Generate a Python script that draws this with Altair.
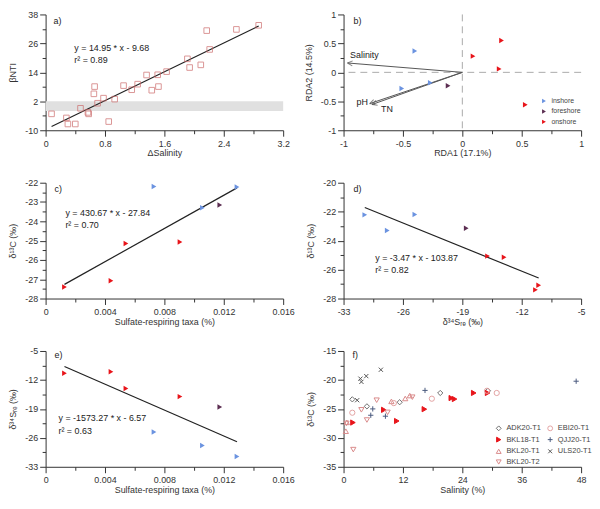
import math
import altair as alt
import pandas as pd

FONT = "Liberation Sans"
DARK = "#333333"
W, H = 240, 117
FS = 9

# ---------------- data ----------------
# a) beta-NTI vs delta salinity
a_dsal = [0.08, 0.28, 0.30, 0.40, 0.47, 0.57, 0.58, 0.66, 0.65, 0.70, 0.78, 0.85, 0.93, 1.05,
          1.16, 1.24, 1.36, 1.43, 1.51, 1.52, 1.63, 1.91, 1.94, 2.09, 2.17, 2.21, 2.57, 2.87]
a_bnti = [-3.2, -4.9, -7.4, -7.4, -0.9, -2.6, -3.2, 8.1, 5.1, 1.2, 3.3, -6.4, 2.9, 8.5,
          6.8, 9.1, 12.9, 6.6, 13.0, 8.1, 14.3, 19.6, 16.0, 17.1, 31.3, 23.5, 31.8, 33.5]
a_band = [-2, 2]
a_eq = ["y = 14.95 * x - 9.68", "r² = 0.89"]

# b) RDA
b_rda1 = [-0.40, -0.51, -0.27, -0.12, 0.33, 0.09, 0.31, 0.53]
b_rda2 = [0.37, -0.28, -0.18, -0.23, 0.55, 0.28, 0.06, -0.56]
b_group = ["inshore", "inshore", "inshore", "foreshore", "onshore", "onshore", "onshore", "onshore"]
b_vec_names = ["Salinity", "pH", "TN"]
b_vec_x = [-0.967, -0.78, -0.76]
b_vec_y = [0.162, -0.54, -0.555]
b_lab_x = [-0.945, -0.89, -0.685]
b_lab_y = [0.30, -0.507, -0.63]

groups = ["inshore", "foreshore", "onshore"]
group_colors = ["#6b93e0", "#5c2e52", "#e8141a"]

# c, d, e) samples
s_group = ["inshore", "inshore", "inshore", "foreshore", "onshore", "onshore", "onshore", "onshore"]
s_taxa = [0.0073, 0.01289, 0.01056, 0.01173, 0.00541, 0.00905, 0.00440, 0.00127]
s_d13c = [-22.2, -22.22, -23.3, -23.15, -25.15, -25.07, -27.08, -27.4]
s_d34s = [-24.6, -30.5, -27.85, -18.54, -14.08, -16.03, -10.0, -10.38]
c_eq = ["y = 430.67 * x - 27.84", "r² = 0.70"]
d_eq = ["y = -3.47 * x - 103.87", "r² = 0.82"]
e_eq = ["y = -1573.27 * x - 6.57", "r² = 0.63"]

# f) d13C vs salinity by site
f_sites = {
    "ADK20-T1": ([1.77, 4.72, 11.34, 19.54, 29.18], [-23.35, -24.56, -23.85, -22.25, -21.87]),
    "BKL18-T1": ([1.9, 8.13, 10.75, 16.33, 21.77, 22.43, 26.3, 29.1],
                 [-27.36, -25.16, -27.09, -25.05, -23.13, -23.3, -22.25, -22.25]),
    "BKL20-T1": ([0.66, 0.46, 9.67, 12.46, 13.38], [-27.33, -28.85, -23.7, -23.2, -22.7]),
    "BKL20-T2": ([0.59, 1.97, 3.6, 4.72, 6.69, 8.9, 13.9], [-27.5, -32.03, -25.16, -26.92, -23.5, -25.6, -22.98]),
    "EBI20-T1": ([1.77, 10.16, 17.84, 28.98, 30.95], [-25.66, -24.0, -23.24, -21.87, -22.25]),
    "QJJ20-T1": ([5.9, 5.5, 8.46, 16.46, 47.0], [-25.0, -26.1, -26.26, -21.81, -20.22]),
    "ULS20-T1": ([2.75, 3.41, 3.61, 4.59, 7.54], [-23.5, -19.78, -20.33, -19.34, -18.24]),
}
f_order = ["ADK20-T1", "BKL18-T1", "BKL20-T1", "BKL20-T2", "EBI20-T1", "QJJ20-T1", "ULS20-T1"]
f_shapes = {"ADK20-T1": "diamond", "EBI20-T1": "circle", "BKL18-T1": "triangle-right",
            "QJJ20-T1": "M-1,0L1,0M0,-1L0,1", "BKL20-T1": "triangle-up",
            "ULS20-T1": "M-0.8,-0.8L0.8,0.8M-0.8,0.8L0.8,-0.8", "BKL20-T2": "triangle-down"}
f_stroke = {"ADK20-T1": "#6e6e6e", "EBI20-T1": "#e3a3a3", "BKL18-T1": "#e8141a",
            "QJJ20-T1": "#4a5a7e", "BKL20-T1": "#d98a8a", "ULS20-T1": "#555555", "BKL20-T2": "#d98a8a"}
f_fill = {k: ("#e8141a" if k == "BKL18-T1" else "rgba(0,0,0,0)") for k in f_order}

# ---------------- helpers ----------------
def _test(majors):
    return " || ".join(f"abs(datum.value - ({m})) < 1e-9" for m in majors)

def ax(title, majors, minors, kind):
    t = _test(majors)
    common = dict(
        title=title, values=sorted(majors + minors),
        labelExpr=f"({t}) ? '' + datum.value : ''",
        tickSize={"condition": {"test": t, "value": 6}, "value": 3.5},
        grid=False, domainColor=DARK, tickColor=DARK, labelColor=DARK, titleColor=DARK,
        labelFont=FONT, titleFont=FONT, labelFontSize=FS, titleFontSize=FS,
        titleFontWeight="normal", labelOverlap=False, labelFlush=False,
        domainWidth=1, tickWidth=1,
    )
    if kind == "x":
        return alt.Axis(labelPadding=3, titlePadding=1, **common)
    return alt.Axis(labelPadding=2, titlePadding=7, **common)

def sc(lo, hi):
    return alt.Scale(domain=[lo, hi], nice=False, zero=False)

def txt(text, px, py, size=FS):
    return alt.Chart(pd.DataFrame({"t": [text]})).mark_text(
        align="left", baseline="middle", font=FONT, fontSize=size, color="#222"
    ).encode(text="t:N", x=alt.value(px), y=alt.value(py))

# ---------------- panel a ----------------
axa_x = ax("ΔSalinity", [0, 0.8, 1.6, 2.4, 3.2], [0.4, 1.2, 2.0, 2.8], "x")
axa_y = ax("βNTI", [-10, 2, 14, 26, 38], [-4, 8, 20, 32], "y")
sxa, sya = sc(0, 3.2), sc(-10, 38)
a_df = pd.DataFrame({"x": a_dsal, "y": a_bnti})
band_df = pd.DataFrame({"x0": [0], "x1": [3.2], "y0": [a_band[0]], "y1": [a_band[1]]})
a_band_l = alt.Chart(band_df).mark_rect(fill="#e0e0e0", opacity=1).encode(
    x=alt.X("x0:Q", scale=sxa, axis=axa_x), x2="x1:Q",
    y=alt.Y("y0:Q", scale=sya, axis=axa_y), y2="y1:Q")
a_line = alt.Chart(a_df).transform_regression("x", "y").mark_line(color="#222", strokeWidth=1.2).encode(
    x=alt.X("x:Q", scale=sxa, axis=axa_x), y=alt.Y("y:Q", scale=sya, axis=axa_y))
a_pts = alt.Chart(a_df).mark_point(shape="square", filled=False, color="#cc6a6a", size=32, strokeWidth=1).encode(
    x=alt.X("x:Q", scale=sxa, axis=axa_x), y=alt.Y("y:Q", scale=sya, axis=axa_y))
panel_a = alt.layer(a_band_l, a_line, a_pts, txt("a)", 8, 6.5), txt(a_eq[0], 29, 34), txt(a_eq[1], 29, 46)
                    ).properties(width=W, height=H)

# ---------------- panel b ----------------
axb_x = ax("RDA1 (17.1%)", [-1, -0.5, 0, 0.5, 1], [-0.75, -0.25, 0.25, 0.75], "x")
axb_y = ax("RDA2 (14.5%)", [-1, -0.5, 0, 0.5, 1], [-0.75, -0.25, 0.25, 0.75], "y")
sxb, syb = sc(-1, 1), sc(-1, 1)
b_df = pd.DataFrame({"x": b_rda1, "y": b_rda2, "group": b_group})
zero_df = pd.DataFrame({"z": [0]})
b_vline = alt.Chart(zero_df).mark_rule(color="#aaaaaa", strokeDash=[7, 5], strokeWidth=1).encode(
    x=alt.X("z:Q", scale=sxb, axis=axb_x))
b_hline = alt.Chart(zero_df).mark_rule(color="#aaaaaa", strokeDash=[7, 5], strokeWidth=1).encode(
    y=alt.Y("z:Q", scale=syb, axis=axb_y))
vec_df = pd.DataFrame({"name": b_vec_names, "x": b_vec_x, "y": b_vec_y,
                       "lx": b_lab_x, "ly": b_lab_y, "x0": [0] * 3, "y0": [0] * 3})
vec_df["ang"] = [math.degrees(math.atan2(yy * (H / 2), -xx * (W / 2))) % 360
                 for xx, yy in zip(vec_df["x"], vec_df["y"])]
b_vec = alt.Chart(vec_df).mark_rule(color="#555555", strokeWidth=1).encode(
    x=alt.X("x0:Q", scale=sxb, axis=axb_x), y=alt.Y("y0:Q", scale=syb, axis=axb_y),
    x2="x:Q", y2="y:Q")
b_head = alt.Chart(vec_df).mark_point(shape="M0,0L1.6,-0.8M0,0L1.6,0.8", filled=False,
                                      color="#555555", strokeWidth=1, size=40).encode(
    x=alt.X("x:Q", scale=sxb, axis=axb_x), y=alt.Y("y:Q", scale=syb, axis=axb_y),
    angle=alt.Angle("ang:Q", scale=None))
b_lab = alt.Chart(vec_df).mark_text(align="left", baseline="middle", font=FONT, fontSize=FS, color="#222").encode(
    x=alt.X("lx:Q", scale=sxb, axis=axb_x), y=alt.Y("ly:Q", scale=syb, axis=axb_y), text="name:N")
b_pts = alt.Chart(b_df).mark_point(shape="triangle-right", filled=True, size=30, opacity=1).encode(
    x=alt.X("x:Q", scale=sxb, axis=axb_x), y=alt.Y("y:Q", scale=syb, axis=axb_y),
    color=alt.Color("group:N", scale=alt.Scale(domain=groups, range=group_colors),
                    legend=alt.Legend(orient="none", legendX=199, legendY=84, title=None,
                                      labelFont=FONT, labelFontSize=7, labelColor="#444",
                                      symbolType="triangle-right", symbolSize=20, rowPadding=2.5,
                                      labelOffset=4, symbolStrokeWidth=0)))
panel_b = alt.layer(b_vline, b_hline, b_vec, b_head, b_lab, b_pts, txt("b)", 10, 6.5)).properties(width=W, height=H)

# ---------------- samples ----------------
s_df = pd.DataFrame({"taxa": s_taxa, "d13c": s_d13c, "d34s": s_d34s, "group": s_group})
s_color = alt.Color("group:N", scale=alt.Scale(domain=groups, range=group_colors), legend=None)

def sample_panel(xf, yf, axx, axy, sx, sy, lab, labpos, eq, eqpos):
    line = alt.Chart(s_df).transform_regression(xf, yf).mark_line(color="#222", strokeWidth=1.2).encode(
        x=alt.X(f"{xf}:Q", scale=sx, axis=axx), y=alt.Y(f"{yf}:Q", scale=sy, axis=axy))
    pts = alt.Chart(s_df).mark_point(shape="triangle-right", filled=True, size=30, opacity=1).encode(
        x=alt.X(f"{xf}:Q", scale=sx, axis=axx), y=alt.Y(f"{yf}:Q", scale=sy, axis=axy), color=s_color)
    return alt.layer(line, pts, txt(lab, *labpos), txt(eq[0], eqpos[0], eqpos[1]),
                     txt(eq[1], eqpos[0], eqpos[1] + 12.5)).properties(width=W, height=H)

taxa_major = [0, 0.004, 0.008, 0.012, 0.016]
taxa_minor = [0.002, 0.006, 0.01, 0.014]
panel_c = sample_panel("taxa", "d13c",
                       ax("Sulfate-respiring taxa (%)", taxa_major, taxa_minor, "x"),
                       ax("δ¹³C (‰)", [-28, -27, -26, -25, -24, -23, -22],
                          [-27.5, -26.5, -25.5, -24.5, -23.5, -22.5], "y"),
                       sc(0, 0.016), sc(-28, -22), "c)", (9, 6.5), c_eq, (20, 30.5))
panel_d = sample_panel("d34s", "d13c",
                       ax("δ³⁴Sᵣₑ (‰)", [-33, -26, -19, -12, -5], [-29.5, -22.5, -15.5, -8.5], "x"),
                       ax("δ¹³C (‰)", [-28, -26, -24, -22, -20], [-27, -25, -23, -21], "y"),
                       sc(-33, -5), sc(-28, -20), "d)", (10, 6.5), d_eq, (32, 76))
panel_e = sample_panel("taxa", "d34s",
                       ax("Sulfate-respiring taxa (%)", taxa_major, taxa_minor, "x"),
                       ax("δ³⁴Sᵣₑ (‰)", [-33, -26, -19, -12, -5], [-29.5, -22.5, -15.5, -8.5], "y"),
                       sc(0, 0.016), sc(-33, -5), "e)", (9, 4.5), e_eq, (13, 68))

# ---------------- panel f ----------------
rows = []
for site in f_order:
    xs, ys = f_sites[site]
    for xv, yv in zip(xs, ys):
        rows.append({"sal": xv, "d13c": yv, "site": site})
f_df = pd.DataFrame(rows)
f_leg = alt.Legend(orient="none", legendX=153, legendY=74, title=None, columns=2, direction="vertical",
                   labelFont=FONT, labelFontSize=7.5, labelColor="#444", symbolSize=24,
                   rowPadding=1.8, columnPadding=4, labelOffset=4, symbolStrokeWidth=1)
axf_x = ax("Salinity (%)", [0, 12, 24, 36, 48], [6, 18, 30, 42], "x")
axf_y = ax("δ¹³C (‰)", [-35, -30, -25, -20, -15], [-32.5, -27.5, -22.5, -17.5], "y")
f_pts = alt.Chart(f_df).mark_point(size=28, strokeWidth=1, opacity=1).encode(
    x=alt.X("sal:Q", scale=sc(0, 48), axis=axf_x),
    y=alt.Y("d13c:Q", scale=sc(-35, -15), axis=axf_y),
    shape=alt.Shape("site:N", scale=alt.Scale(domain=f_order, range=[f_shapes[k] for k in f_order]), legend=f_leg),
    stroke=alt.Stroke("site:N", scale=alt.Scale(domain=f_order, range=[f_stroke[k] for k in f_order]), legend=f_leg),
    fill=alt.Fill("site:N", scale=alt.Scale(domain=f_order, range=[f_fill[k] for k in f_order]), legend=f_leg),
)
panel_f = alt.layer(f_pts, txt("f)", 9, 4.5)).properties(width=W, height=H)

chart = alt.concat(panel_a, panel_b, panel_c, panel_d, panel_e, panel_f, columns=2,
                   spacing={"row": 53, "column": 61}, bounds="flush").resolve_scale(
    color="independent", shape="independent", stroke="independent", fill="independent"
).properties(padding={"left": 0, "top": 0, "right": 0, "bottom": 0}).configure_view(stroke=None)

chart.save("out.html", embed_options={"renderer": "svg", "actions": False})
